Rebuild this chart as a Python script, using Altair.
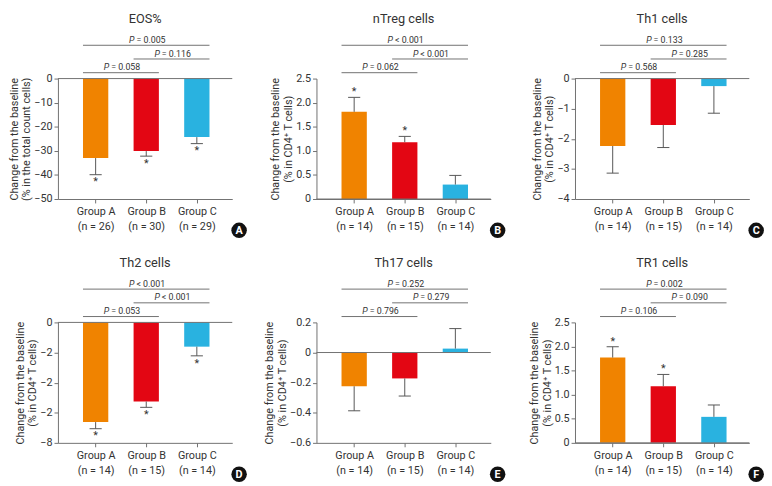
import altair as alt
import numpy as np
import pandas as pd

# ---------------- data ----------------
GROUPS = ["Group A", "Group B", "Group C"]
BAR_COLORS = ["#F08300", "#E30613", "#29B2E0"]
LETTERS = ["A", "B", "C", "D", "E", "F"]
TITLES = ["EOS%", "nTreg cells", "Th1 cells", "Th2 cells", "Th17 cells", "TR1 cells"]
N_COUNTS = [[26, 30, 29], [14, 15, 14], [14, 15, 14], [14, 15, 14], [14, 15, 14], [14, 15, 14]]
MEANS = [
    [-33.0, -30.1, -24.3],
    [1.81, 1.18, 0.30],
    [-2.24, -1.54, -0.25],
    [-6.62, -5.25, -1.61],
    [-0.224, -0.172, 0.026],
    [1.77, 1.175, 0.54],
]
ERRS = [
    [6.9, 2.1, 2.7],
    [0.30, 0.12, 0.19],
    [0.90, 0.75, 0.90],
    [0.44, 0.39, 0.61],
    [0.163, 0.117, 0.133],
    [0.225, 0.245, 0.246],
]
STARS = [[1, 1, 1], [1, 1, 0], [0, 0, 0], [1, 1, 1], [0, 0, 0], [1, 1, 0]]
Y_DOMAINS = [[-50, 0], [0, 2.5], [-4, 0], [-8, 0], [-0.6, 0.2], [0, 2.5]]
Y_TICKS = [
    [0, -10, -20, -30, -40, -50],
    [0, 0.5, 1, 1.5, 2, 2.5],
    [0, -1, -2, -3, -4],
    [0, -2, -4, -6, -8],
    [0.2, 0, -0.2, -0.4, -0.6],
    [0, 0.5, 1, 1.5, 2, 2.5],
]
Y_TICK_LABELS = [
    ["0", "−10", "−20", "−30", "−40", "−50"],
    ["0", "0.5", "1.0", "1.5", "2.0", "2.5"],
    ["0", "−1", "−2", "−3", "−4"],
    ["0", "−2", "−2", "−2", "−8"],
    ["0.2", "0", "−0.2", "−0.4", "−0.6"],
    ["0", "0.5", "1.0", "1.5", "2.0", "2.5"],
]
Y_TITLES = [
    ["Change from the baseline", "(% in the total count cells)"],
    ["Change from the baseline", "(% in CD4⁺ T cells)"],
    ["Change from the baseline", "(% in CD4⁺ T cells)"],
    ["Change from the baseline", "(% in CD4⁺ T cells)"],
    ["Change from the baseline", "(% in CD4⁺ T cells)"],
    ["Change from the baseline", "(% in CD4⁺ T cells)"],
]
P_PAIRS = [("Group A", "Group C"), ("Group B", "Group C"), ("Group A", "Group B")]
P_LEVELS = [3, 2, 1]
P_TEXTS = [
    ["= 0.005", "= 0.116", "= 0.058"],
    ["< 0.001", "< 0.001", "= 0.062"],
    ["= 0.133", "= 0.285", "= 0.568"],
    ["< 0.001", "< 0.001", "= 0.053"],
    ["= 0.252", "= 0.279", "= 0.796"],
    ["= 0.002", "= 0.090", "= 0.106"],
]

# ---------------- layout / style ----------------
PLOT_W = 178
PLOT_H = 123
TOP_ZONE = 40
GROUP_H = PLOT_H + TOP_ZONE
X_DOMAIN = [-0.745, 2.70]
HALF_BAR = 0.25
HALF_CAP = 0.12
FONT = "Roboto"
TEXT = "#333333"
LINE = "#707070"


def num_expr(v):
    return repr(float(v))


def panel(k):
    pos = list(range(len(GROUPS)))
    df = pd.DataFrame({"group": GROUPS, "pos": pos, "mean": MEANS[k],
                       "err": ERRS[k], "star": STARS[k]})
    df["x0"] = df["pos"] - HALF_BAR
    df["x1"] = df["pos"] + HALF_BAR
    df["c0"] = df["pos"] - HALF_CAP
    df["c1"] = df["pos"] + HALF_CAP
    df["tip"] = df["mean"] + np.sign(df["mean"]) * df["err"]

    x_lab = " : ".join(
        f"datum.value == {i} ? ['{g}', '(n = {n})']" for i, (g, n) in enumerate(zip(GROUPS, N_COUNTS[k]))
    ) + " : ''"
    y_lab = " : ".join(
        f"datum.value == {num_expr(v)} ? '{l}'" for v, l in zip(Y_TICKS[k], Y_TICK_LABELS[k])
    ) + " : ''"

    xscale = alt.Scale(domain=X_DOMAIN, nice=False, zero=False)
    yscale = alt.Scale(domain=Y_DOMAINS[k], range=[GROUP_H, TOP_ZONE], nice=False, zero=False)
    xaxis = alt.Axis(values=pos, labelExpr=x_lab, grid=False, tickSize=4, title=None,
                     domainColor=LINE, tickColor=LINE, labelColor=TEXT, labelFont=FONT,
                     labelFontSize=11, labelLineHeight=15, labelPadding=3, labelAngle=0)
    yaxis = alt.Axis(values=Y_TICKS[k], labelExpr=y_lab, grid=False, tickSize=4,
                     title=Y_TITLES[k], titleFont=FONT, titleFontSize=11, titleFontWeight="normal",
                     titleColor=TEXT, titlePadding=2, titleLineHeight=13,
                     domainColor=LINE, tickColor=LINE, labelColor=TEXT, labelFont=FONT,
                     labelFontSize=11, labelPadding=2)

    def X(f):
        return alt.X(f, type="quantitative", scale=xscale, axis=xaxis)

    def Y(f):
        return alt.Y(f, type="quantitative", scale=yscale, axis=yaxis)

    base = alt.Chart(df)
    bars = base.mark_bar().encode(
        x=X("x0"), x2="x1", y=Y("mean"), y2=alt.datum(0),
        color=alt.Color("group:N", scale=alt.Scale(domain=GROUPS, range=BAR_COLORS), legend=None),
    )
    err = base.mark_rule(color="#555555", strokeWidth=1).encode(x=X("pos"), y=Y("mean"), y2="tip")
    cap = base.mark_rule(color="#555555", strokeWidth=1).encode(x=X("c0"), x2="c1", y=Y("tip"))
    s_neg = base.transform_filter("datum.star == 1 && datum.mean < 0").mark_text(
        text="*", baseline="top", dy=2, fontSize=11, font=FONT, color=TEXT
    ).encode(x=X("pos"), y=Y("tip"))
    s_pos = base.transform_filter("datum.star == 1 && datum.mean > 0").mark_text(
        text="*", baseline="alphabetic", dy=-2, fontSize=11, font=FONT, color=TEXT
    ).encode(x=X("pos"), y=Y("tip"))

    zdf = pd.DataFrame({"xa": [X_DOMAIN[0]], "xb": [X_DOMAIN[1]], "z": [0]})
    zero = alt.Chart(zdf).mark_rule(color=LINE, strokeWidth=1).encode(x=X("xa"), x2="xb", y=Y("z"))

    bdf = pd.DataFrame({"letter": [LETTERS[k]]})
    badge = alt.Chart(bdf).mark_point(filled=True, shape="circle", size=250, color="#111111",
                                      opacity=1).encode(x=alt.value(PLOT_W + 7), y=alt.value(GROUP_H + 32))
    badge_t = alt.Chart(bdf).mark_text(color="white", fontWeight="bold", fontSize=11, font=FONT,
                                       baseline="middle").encode(
        text="letter:N", x=alt.value(PLOT_W + 7), y=alt.value(GROUP_H + 32.5))

    main = alt.layer(bars, err, cap, zero, s_neg, s_pos, badge, badge_t)

    gpos = {g: i for i, g in enumerate(GROUPS)}
    pdf = pd.DataFrame({
        "b0": [gpos[a] - HALF_BAR for a, b in P_PAIRS],
        "b1": [gpos[b] + HALF_BAR for a, b in P_PAIRS],
        "mid": [(gpos[a] + gpos[b]) / 2 for a, b in P_PAIRS],
        "level": P_LEVELS,
        "ptxt": P_TEXTS[k],
    })
    bscale = alt.Scale(domain=[1, 3], range=[TOP_ZONE - 6, TOP_ZONE - 34], nice=False, zero=False)
    by = alt.Y("level:Q", scale=bscale, axis=None)
    pb = alt.Chart(pdf)
    brule = pb.mark_rule(color=LINE, strokeWidth=1).encode(x=X("b0"), x2="b1", y=by)
    pP = pb.mark_text(text="P", fontStyle="italic", align="right", dx=-12, dy=-2.5,
                      baseline="alphabetic", fontSize=9, font=FONT, color=TEXT).encode(x=X("mid"), y=by)
    pR = pb.mark_text(align="left", dx=-10, dy=-2.5, baseline="alphabetic", fontSize=9,
                      font=FONT, color=TEXT).encode(text="ptxt:N", x=X("mid"), y=by)
    brackets = alt.layer(brule, pP, pR)

    return alt.layer(main, brackets).resolve_scale(y="independent").properties(
        width=PLOT_W, height=GROUP_H,
        title=alt.TitleParams(TITLES[k], font=FONT, fontSize=13, fontWeight="normal", color=TEXT,
                              anchor="middle", frame="group", offset=-3, baseline="bottom"),
    )


chart = alt.concat(
    *[panel(k) for k in range(6)], columns=3, spacing={"row": 86, "column": 86}, bounds="flush"
).properties(padding=0).configure_view(stroke=None)

chart.save("out.html", embed_options={"renderer": "svg", "actions": False})
